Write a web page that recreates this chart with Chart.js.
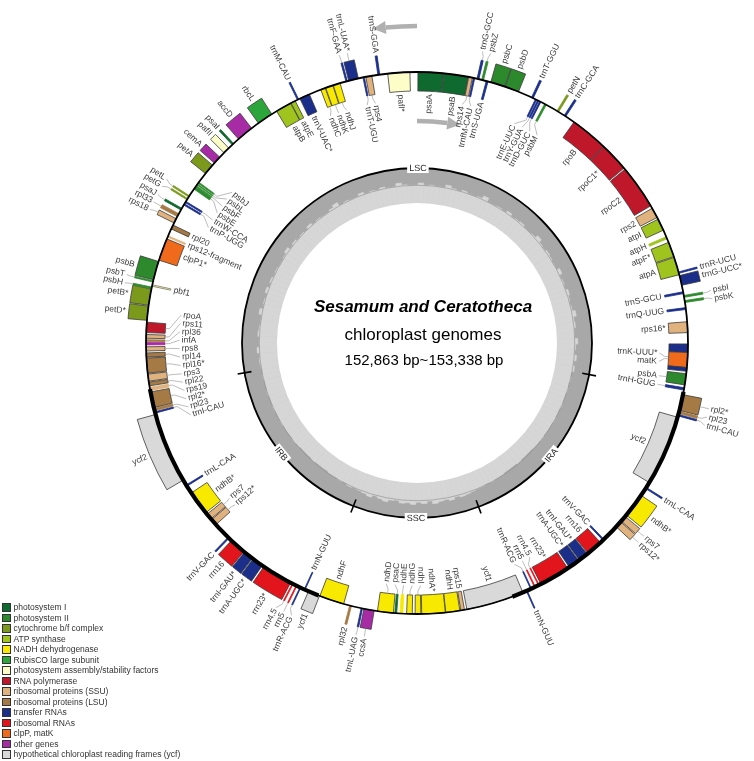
<!DOCTYPE html>
<html>
<head>
<meta charset="utf-8">
<script src="https://cdn.jsdelivr.net/npm/chart.js@4.4.1/dist/chart.umd.min.js"></script>
<style>
  html, body { margin: 0; padding: 0; background: #fff; }
  #wrap { position: relative; width: 754px; height: 761px; overflow: hidden; font-family: "Liberation Sans", Arial, sans-serif; }
  #wrap canvas { position: absolute; left: 0; top: 0; }
  #legend { position: absolute; left: 2px; top: 602px; font-size: 8.5px; color: #333; }
  .row { height: 10.5px; display: flex; align-items: center; white-space: nowrap; }
  .sw { width: 8.5px; height: 8.5px; border: 1px solid #333; box-sizing: border-box; margin-right: 3px; }
</style>
</head>
<body>
<div id="wrap">
  <canvas id="gc" width="754" height="761"></canvas>
  <canvas id="map" width="754" height="761"></canvas>
  <div id="legend"></div>
</div>
<script>
const genomeLength = 153000;
const regionNames = ['LSC', 'IRB', 'SSC', 'IRA'];
const regionStarts = [0, 85085, 110118, 127925];
const regionEnds = [85085, 110118, 127925, 153000];

const groupNames = [
  'photosystem I', 'photosystem II', 'cytochrome b/f complex', 'ATP synthase',
  'NADH dehydrogenase', 'RubisCO large subunit', 'photosystem assembly/stability factors',
  'RNA polymerase', 'ribosomal proteins (SSU)', 'ribosomal proteins (LSU)',
  'transfer RNAs', 'ribosomal RNAs', 'clpP, matK', 'other genes',
  'hypothetical chloroplast reading frames (ycf)'
];
const groupColors = [
  '#0f6a2f', '#2c8a2c', '#7b9a1c', '#9ec41d', '#f7ea00', '#2ca63a', '#fdfdc8',
  '#c0182b', '#e0b27e', '#a57a45', '#1a2e8a', '#e2141c', '#f06a1c', '#a82ba6', '#d9d9d9'
];

// [name, start bp, end bp, strand: 'o' outside / 'i' inside, group]
const lscGenes = [
  ['trnH-GUG', 170, 383, 'i', 10], ['psbA', 638, 1658, 'i', 1],
  ['trnK-UUU*', 1870, 4335, 'i', 10], ['matK', 2210, 3570, 'i', 12],
  ['rps16*', 5355, 6333, 'i', 8], ['trnQ-UUG', 7438, 7608, 'i', 10],
  ['psbK', 8075, 8245, 'o', 1], ['psbI', 8543, 8713, 'o', 1],
  ['trnS-GCU', 8883, 9053, 'i', 10], ['trnG-UCC*', 9648, 10540, 'o', 10],
  ['trnR-UCU', 10753, 10880, 'o', 10], ['atpA', 10625, 12240, 'i', 3],
  ['atpF*', 12325, 13685, 'i', 3], ['atpH', 14025, 14238, 'i', 3],
  ['atpI', 14875, 15980, 'i', 3], ['rps2', 16150, 17085, 'i', 8],
  ['rpoC2', 17340, 21378, 'i', 7], ['rpoC1*', 21505, 24140, 'i', 7],
  ['rpoB', 24183, 27625, 'i', 7], ['trnC-GCA', 28518, 28688, 'o', 10],
  ['petN', 29283, 29453, 'o', 2], ['psbM', 30558, 30728, 'i', 1],
  ['trnD-GUC', 31110, 31238, 'i', 10], ['trnY-GUA', 31323, 31450, 'i', 10],
  ['trnE-UUC', 31535, 31663, 'i', 10], ['trnT-GGU', 31875, 32045, 'o', 10],
  ['psbD', 33320, 34595, 'o', 1], ['psbC', 34638, 35955, 'o', 1],
  ['trnS-UGA', 36210, 36380, 'i', 10], ['psbZ', 36635, 36805, 'o', 1],
  ['trnG-GCC', 37060, 37230, 'o', 10], ['trnfM-CAU', 37443, 37570, 'i', 10],
  ['rps14', 37655, 37995, 'i', 8], ['psaB', 38038, 40248, 'i', 0],
  ['psaA', 40290, 42585, 'i', 0], ['pafI*', 43308, 45305, 'i', 6],
  ['trnS-GGA', 46028, 46198, 'o', 10], ['rps4', 46750, 47303, 'i', 8],
  ['trnT-UGU', 47430, 47558, 'i', 10], ['trnL-UAA*', 47983, 48875, 'o', 10],
  ['trnF-GAA', 49003, 49130, 'o', 10], ['ndhJ', 49683, 50320, 'i', 4],
  ['ndhK', 50363, 51043, 'i', 4], ['ndhC', 51085, 51510, 'i', 4],
  ['trnV-UAC*', 52615, 53550, 'i', 10], ['trnM-CAU', 53678, 53805, 'o', 10],
  ['atpE', 54018, 54443, 'i', 3], ['atpB', 54485, 55930, 'i', 3],
  ['rbcL', 56440, 57885, 'o', 5], ['accD', 58650, 60180, 'o', 13],
  ['psaI', 60775, 60945, 'o', 0], ['pafII', 61370, 61965, 'o', 6],
  ['cemA', 62518, 63240, 'o', 13], ['petA', 63495, 64473, 'o', 2],
  ['psbJ', 65450, 65578, 'i', 1], ['psbL', 65663, 65748, 'i', 1],
  ['psbF', 65833, 65918, 'i', 1], ['psbE', 65960, 66215, 'i', 1],
  ['petL', 66938, 67065, 'o', 2], ['petG', 67235, 67363, 'o', 2],
  ['trnW-CCA', 67533, 67660, 'i', 10], ['trnP-UGG', 67788, 67915, 'i', 10],
  ['psaJ', 68255, 68425, 'o', 0], ['rpl33', 68808, 69105, 'o', 9],
  ['rps18', 69318, 69743, 'o', 8], ['rpl20', 69955, 70338, 'i', 9],
  ['rps12-fragment', 71018, 71145, 'i', 8], ['clpP1*', 71315, 73355, 'i', 12],
  ['psbB', 73483, 75183, 'o', 1], ['psbT', 75268, 75395, 'o', 1],
  ['pbf1', 75650, 75778, 'i', 6], ['psbH', 75863, 75990, 'o', 1],
  ['petB*', 76033, 77520, 'o', 2], ['petD*', 77605, 78880, 'o', 2],
  ['rpoA', 79050, 79985, 'i', 7], ['rps11', 80155, 80495, 'i', 8],
  ['rpl36', 80623, 80793, 'i', 9], ['infA', 80878, 81090, 'i', 13],
  ['rps8', 81260, 81643, 'i', 8], ['rpl14', 81813, 82195, 'i', 9],
  ['rpl16*', 82280, 83640, 'i', 9], ['rps3', 83725, 84363, 'i', 8],
  ['rpl22', 84448, 84788, 'i', 9], ['rps19', 84915, 85213, 'i', 8]
];
const irbGenes = [
  ['rpl2*', 85340, 86785, 'i', 9], ['rpl23', 86870, 87083, 'i', 9],
  ['trnI-CAU', 87168, 87295, 'i', 10], ['ycf2', 87423, 93840, 'o', 14],
  ['trnL-CAA', 94350, 94478, 'i', 10], ['ndhB*', 95200, 97410, 'i', 4],
  ['rps7', 97580, 98133, 'i', 8], ['rps12*', 98218, 98813, 'i', 8],
  ['trnV-GAC', 100385, 100513, 'o', 10], ['rrn16', 100810, 102298, 'o', 11],
  ['trnI-GAU*', 102383, 103275, 'o', 10], ['trnA-UGC*', 103360, 104380, 'o', 10],
  ['rrn23*', 104550, 107355, 'o', 11], ['rrn4.5', 107525, 107610, 'o', 11],
  ['rrn5', 107908, 107993, 'o', 11], ['trnR-ACG', 108290, 108375, 'o', 10],
  ['trnN-GUU', 108715, 108800, 'i', 10], ['ycf1', 109140, 110203, 'o', 14]
];
const sscGenes = [
  ['ndhF', 110245, 112498, 'i', 4], ['rpl32', 113050, 113220, 'o', 9],
  ['trnL-UAG', 114113, 114240, 'o', 10], ['ccsA', 114368, 115303, 'o', 13],
  ['ndhD', 115600, 117045, 'i', 4], ['psaC', 117173, 117343, 'i', 0],
  ['ndhE', 117640, 117895, 'i', 4], ['ndhG', 118235, 118745, 'i', 4],
  ['ndhI', 119000, 119510, 'i', 4], ['ndhA*', 119595, 121720, 'i', 4],
  ['ndhH', 121763, 123038, 'i', 4], ['rps15', 123123, 123463, 'i', 8],
  ['ycf1', 123675, 128945, 'i', 14]
];
const iraGenes = [
  ['trnN-GUU', 129285, 129370, 'o', 10], ['trnR-ACG', 129710, 129795, 'i', 10],
  ['rrn5', 130093, 130178, 'i', 11], ['rrn4.5', 130475, 130560, 'i', 11],
  ['rrn23*', 130730, 133535, 'i', 11], ['trnA-UGC*', 133705, 134725, 'i', 10],
  ['trnI-GAU*', 134810, 135703, 'i', 10], ['rrn16', 135788, 137275, 'i', 11],
  ['trnV-GAC', 137573, 137700, 'i', 10], ['rps12*', 139273, 139868, 'o', 8],
  ['rps7', 139953, 140505, 'o', 8], ['ndhB*', 140675, 142885, 'o', 4],
  ['trnL-CAA', 143608, 143735, 'o', 10], ['ycf2', 144245, 150663, 'i', 14],
  ['trnI-CAU', 150790, 150918, 'o', 10], ['rpl23', 151003, 151215, 'o', 9],
  ['rpl2*', 151300, 152745, 'o', 9]
];

// GC content (%), 850 bp windows
const gcLSC = [35,37,34,37,36,33,37,37,35,36, 32,36,37,36,34,37,36,37,33,37,
  37,36,35,37,36,32,36,37,37,35, 36,37,34,37,36,37,37,32,36,37,
  37,35,37,36,33,37,37,36,37,34, 37,37,36,33,37,37,35,37,36,37,
  34,37,37,36,37,32,35,37,37,36, 37,34,37,36,37,35,37,33,36,37,
  37,36,37,35,37,34,37,36,37,33, 37,37,36,35,37,37,34,37,36,37];
const gcIRB = [38,37,38,38,37,38,38,37,38,38, 37,38,38,38,37,38,39,39,39,38,
  39,39,39,38,38,37,38,36,37,36];
const gcSSC = [35,33,36,34,32,35,36,33,34,32, 35,33,36,32,34,35,33,36,34,35];
const gcIRA = [36,37,37,38,37,38,38,39,39,39, 38,39,39,39,38,38,37,38,38,38,
  37,38,38,37,38,38,37,38,37,38];

const FONT = '"Liberation Sans", Arial, sans-serif';
const genes = [...lscGenes, ...irbGenes, ...sscGenes, ...iraGenes]
  .map(([name, start, end, strand, group]) => ({ name, start, end, strand, group }));

// one ring per strand, segments in bp; genome runs counterclockwise so reverse for Chart.js
function buildRing(strand) {
  const list = genes.filter(g => g.strand === strand).sort((a, b) => a.start - b.start);
  const segs = [];
  let cursor = 0;
  for (const g of list) {
    if (g.start < cursor) {
      const prev = segs[segs.length - 1];
      const prevEnd = cursor;
      prev.len -= prevEnd - g.start;
      segs.push({ gene: g, len: g.end - g.start });
      if (prevEnd > g.end) { segs.push({ gene: prev.gene, len: prevEnd - g.end }); cursor = prevEnd; }
      else cursor = g.end;
    } else {
      if (g.start > cursor) segs.push({ gene: null, len: g.start - cursor });
      segs.push({ gene: g, len: g.end - g.start });
      cursor = g.end;
    }
  }
  if (cursor < genomeLength) segs.push({ gene: null, len: genomeLength - cursor });
  return segs.reverse();
}

function ringDataset(strand) {
  const segs = buildRing(strand);
  return {
    data: segs.map(s => s.len),
    backgroundColor: segs.map(s => s.gene ? groupColors[s.gene.group] : 'rgba(0,0,0,0)'),
    borderColor: segs.map(s => {
      if (!s.gene) return 'rgba(0,0,0,0)';
      if (s.gene.end - s.gene.start < 300) return s.gene.group === 6 ? '#77775a' : groupColors[s.gene.group];
      return '#3a3a3a';
    }),
    borderWidth: segs.map(s => s.gene ? 0.8 : 0),
    hoverOffset: 0
  };
}

// ---------- GC content ring ----------
const gcValues = [...gcLSC, ...gcIRB, ...gcSSC, ...gcIRA];
const gcPlugin = {
  id: 'gcRing',
  beforeDatasetsDraw(chart) {
    const s = chart.scales.r, ctx = chart.ctx;
    ctx.save();
    ctx.fillStyle = '#a8a8a8';
    ctx.beginPath(); ctx.arc(s.xCenter, s.yCenter, s.drawingArea, 0, Math.PI * 2); ctx.fill();
    ctx.restore();
  },
  afterDatasetsDraw(chart) {
    const s = chart.scales.r, ctx = chart.ctx;
    const cx = s.xCenter, cy = s.yCenter, R = s.drawingArea;
    const a0 = s.getIndexAngle(0) - Math.PI / 2;
    const ang = pos => a0 + (genomeLength - pos) / genomeLength * Math.PI * 2;
    ctx.save();
    ctx.fillStyle = '#fff';
    ctx.beginPath(); ctx.arc(cx, cy, R * 0.8, 0, Math.PI * 2); ctx.fill();
    ctx.strokeStyle = '#8c8c8c'; ctx.lineWidth = 0.6;
    ctx.beginPath(); ctx.arc(cx, cy, s.getDistanceFromCenterForValue(37), 0, Math.PI * 2); ctx.stroke();
    ctx.strokeStyle = '#000'; ctx.lineWidth = 1.8;
    ctx.beginPath(); ctx.arc(cx, cy, R, 0, Math.PI * 2); ctx.stroke();
    ctx.lineWidth = 1.6;
    regionStarts.forEach(p => {
      const a = ang(p);
      ctx.beginPath();
      ctx.moveTo(cx + (R - 7) * Math.cos(a), cy + (R - 7) * Math.sin(a));
      ctx.lineTo(cx + (R + 7) * Math.cos(a), cy + (R + 7) * Math.sin(a));
      ctx.stroke();
    });
    ctx.font = '9px ' + FONT;
    ctx.textAlign = 'center'; ctx.textBaseline = 'middle';
    regionNames.forEach((n, i) => {
      const a = ang((regionStarts[i] + regionEnds[i]) / 2);
      ctx.save();
      ctx.translate(cx + R * Math.cos(a), cy + R * Math.sin(a));
      ctx.rotate(Math.sin(a) < 0 ? a + Math.PI / 2 : a - Math.PI / 2);
      const w = ctx.measureText(n).width + 4;
      ctx.fillStyle = '#fff'; ctx.fillRect(-w / 2, -5, w, 10);
      ctx.fillStyle = '#222'; ctx.fillText(n, 0, 0.5);
      ctx.restore();
    });
    ctx.restore();
  }
};

new Chart(document.getElementById('gc'), {
  type: 'polarArea',
  data: {
    labels: gcValues.map((v, i) => i * 850),
    datasets: [{ data: gcValues.slice().reverse(), backgroundColor: '#d6d6d6', borderColor: '#d6d6d6', borderWidth: 0.6 }]
  },
  options: {
    responsive: false, animation: false, events: [],
    layout: { padding: { left: 242, right: 162, top: 168, bottom: 243 } },
    scales: {
      r: {
        min: 14, max: 247.33, reverse: true, startAngle: 100.4,
        ticks: { display: false }, grid: { display: false },
        angleLines: { display: false }, pointLabels: { display: false }
      }
    },
    plugins: { legend: { display: false }, tooltip: { enabled: false } }
  },
  plugins: [gcPlugin]
});

// ---------- gene map ----------
function arcArrow(ctx, cx, cy, r, a1, a2) {
  const dir = Math.sign(a2 - a1);
  ctx.strokeStyle = '#b0b0b0'; ctx.fillStyle = '#b0b0b0'; ctx.lineWidth = 4.5;
  ctx.beginPath(); ctx.arc(cx, cy, r, Math.min(a1, a2), Math.max(a1, a2)); ctx.stroke();
  const hx = cx + r * Math.cos(a2), hy = cy + r * Math.sin(a2);
  const tx = -Math.sin(a2) * dir, ty = Math.cos(a2) * dir;
  const nx = Math.cos(a2), ny = Math.sin(a2);
  ctx.beginPath();
  ctx.moveTo(hx + tx * 13, hy + ty * 13);
  ctx.lineTo(hx + nx * 6.5, hy + ny * 6.5);
  ctx.lineTo(hx - nx * 6.5, hy - ny * 6.5);
  ctx.closePath(); ctx.fill();
}

function spreadLabels(items, r, sepPx) {
  items.sort((p, q) => p.th - q.th);
  items.forEach(it => { it.a = it.th; });
  const s = sepPx / r;
  for (let k = 0; k < 800; k++) {
    let moved = false;
    for (let i = 1; i < items.length; i++) {
      const d = items[i].a - items[i - 1].a;
      if (d < s - 1e-7) {
        const p = (s - d) / 2 + 1e-7;
        items[i].a += p; items[i - 1].a -= p; moved = true;
      }
    }
    if (!moved) break;
  }
  const clusters = [];
  let cl = [];
  items.forEach((it, i) => {
    if (i > 0 && it.a - items[i - 1].a < s * 1.03) cl.push(it);
    else { if (cl.length) clusters.push(cl); cl = [it]; }
  });
  if (cl.length) clusters.push(cl);
  clusters.forEach(c => {
    const maxDisp = Math.max(...c.map(it => Math.abs(it.a - it.th))) * r;
    const lead = (c.length > 1 || maxDisp > 1) ? 8 + Math.min(30, maxDisp * 0.45) : 0;
    c.forEach(it => { it.lead = lead; });
  });
}

const mapPlugin = {
  id: 'genomeMap',
  afterDatasetsDraw(chart) {
    const ctx = chart.ctx;
    const outer = chart.getDatasetMeta(0).data[0];
    const inner = chart.getDatasetMeta(1).data[0];
    const cx = outer.x, cy = outer.y;
    const rOut = outer.outerRadius, rMid = outer.innerRadius, rIn = inner.innerRadius;
    const a0 = outer.startAngle;
    const ang = pos => a0 + (genomeLength - pos) / genomeLength * Math.PI * 2;
    ctx.save();

    // main circle, thicker over the inverted repeats
    ctx.strokeStyle = '#000'; ctx.lineWidth = 1.8;
    ctx.beginPath(); ctx.arc(cx, cy, rMid, 0, Math.PI * 2); ctx.stroke();
    ctx.lineWidth = 4.2;
    [1, 3].forEach(i => {
      ctx.beginPath(); ctx.arc(cx, cy, rMid, ang(regionEnds[i]), ang(regionStarts[i])); ctx.stroke();
    });

    // direction arrows
    const d2r = Math.PI / 180;
    arcArrow(ctx, cx, cy, 317, -90 * d2r, -98 * d2r + 13 / 317);
    arcArrow(ctx, cx, cy, 222, -90 * d2r, -78.8 * d2r - 13 / 222);

    // gene labels
    ctx.font = '8.5px ' + FONT;
    ctx.textBaseline = 'middle';
    ['o', 'i'].forEach(side => {
      const out = side === 'o';
      const edge = out ? rOut : rIn;
      const sign = out ? 1 : -1;
      const items = genes.filter(g => g.strand === side).map(g => ({ g, th: ang((g.start + g.end) / 2) }));
      spreadLabels(items, out ? 300 : 242, 8.6);
      items.forEach(it => {
        const pt = (rr, a) => [cx + rr * Math.cos(a), cy + rr * Math.sin(a)];
        let rText;
        if (it.lead) {
          ctx.strokeStyle = '#a0a0a0'; ctx.lineWidth = 0.7;
          ctx.beginPath();
          ctx.moveTo(...pt(edge + sign * 0.5, it.th));
          ctx.lineTo(...pt(edge + sign * 4, it.th));
          ctx.lineTo(...pt(edge + sign * it.lead, it.a));
          ctx.stroke();
          rText = edge + sign * (it.lead + 2);
        } else {
          rText = edge + sign * 3;
        }
        const [x, y] = pt(rText, it.a);
        const right = Math.cos(it.a) >= 0;
        ctx.save();
        ctx.translate(x, y);
        ctx.rotate(right ? it.a : it.a + Math.PI);
        ctx.textAlign = right === out ? 'left' : 'right';
        ctx.fillStyle = '#3a3a3a';
        ctx.fillText(it.g.name, 0, 0);
        ctx.restore();
      });
    });

    // centre title
    ctx.fillStyle = '#000';
    ctx.textAlign = 'center';
    ctx.font = 'italic bold 17px ' + FONT;
    ctx.fillText('Sesamum and Ceratotheca', 423, 307);
    ctx.font = '17px ' + FONT;
    ctx.fillText('chloroplast genomes', 423, 335);
    ctx.font = '15px ' + FONT;
    ctx.fillText('152,863 bp~153,338 bp', 424, 361);
    ctx.restore();
  }
};

new Chart(document.getElementById('map'), {
  type: 'doughnut',
  data: {
    labels: buildRing('o').map(s => s.gene ? s.gene.name : ''),
    datasets: [ringDataset('o'), ringDataset('i')]
  },
  options: {
    responsive: false, animation: false, events: [],
    radius: 290, cutout: (252 / 290 * 100) + '%', rotation: 100.4,
    layout: { padding: { left: 127, right: 47, top: 53, bottom: 128 } },
    plugins: { legend: { display: false }, tooltip: { enabled: false } }
  },
  plugins: [mapPlugin]
});

// legend
const legend = document.getElementById('legend');
groupNames.forEach((n, i) => {
  const row = document.createElement('div');
  row.className = 'row';
  row.innerHTML = '<span class="sw" style="background:' + groupColors[i] + '"></span><span>' + n + '</span>';
  legend.appendChild(row);
});
</script>
</body>
</html>
